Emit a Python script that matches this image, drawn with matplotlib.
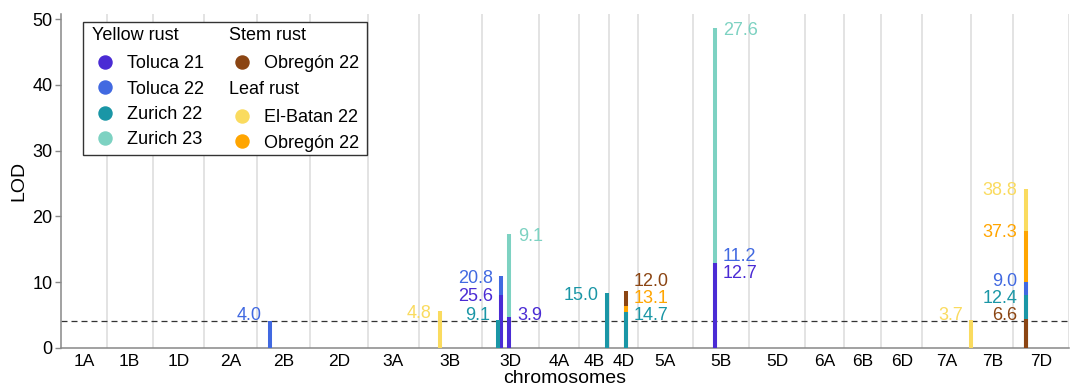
import matplotlib.pyplot as plt
from matplotlib.patches import Rectangle
from matplotlib.lines import Line2D

plt.rcParams['font.family'] = ['Liberation Sans', 'DejaVu Sans']

# chromosomes and their map lengths (cM)
chromosomes = ["1A", "1B", "1D", "2A", "2B", "2D", "3A", "3B", "3D",
               "4A", "4B", "4D", "5A", "5B", "5D", "6A", "6B", "6D",
               "7A", "7B", "7D"]
chrom_length = [137, 138, 154, 159, 159, 174, 152, 189, 173,
                120, 88, 88, 164, 170, 168, 116, 112, 123,
                147, 126, 167]

# traits (disease / environment) and colours
traits = ["YR_T21", "YR_T22", "YR_Z22", "YR_Z23", "SR_O22", "LR_E22", "LR_O22"]
trait_colors = {
    "YR_T21": "#4A2BD4",
    "YR_T22": "#4169E1",
    "YR_Z22": "#1A96A6",
    "YR_Z23": "#7DD2C2",
    "SR_O22": "#8B4513",
    "LR_E22": "#FADB5F",
    "LR_O22": "#FFA500",
}

# QTL peaks
qtl_chrom = ["2B", "3B", "3D", "3D", "3D", "3D", "3D", "4B", "4D", "4D",
             "4D", "5B", "5B", "5B", "7A", "7D", "7D", "7D", "7D", "7D"]
qtl_pos = [39, 64, 50, 58, 58, 83, 83, 84, 51, 51,
           51, 66, 66, 66, 146, 37, 37, 37, 37, 37]
qtl_trait = ["YR_T22", "LR_E22", "YR_Z22", "YR_T22", "YR_T21", "YR_Z23", "YR_T21",
             "YR_Z22", "SR_O22", "LR_O22", "YR_Z22", "YR_Z23", "YR_T22", "YR_T21",
             "LR_E22", "LR_E22", "LR_O22", "YR_T22", "YR_Z22", "SR_O22"]
qtl_lod = [4.1, 5.6, 4.3, 10.9, 8.1, 17.3, 4.7, 8.3, 8.6, 6.4,
           5.5, 48.6, 12.9, 12.85, 4.2, 24.2, 17.8, 10.0, 8.05, 4.4]
qtl_pve = ["4.0", "4.8", "9.1", "20.8", "25.6", "9.1", "3.9", "15.0", "12.0", "13.1",
           "14.7", "27.6", "11.2", "12.7", "3.7", "38.8", "37.3", "9.0", "12.4", "6.6"]
qtl_side = ["L", "L", "L", "L", "L", "R", "R", "L", "R", "R",
            "R", "R", "R", "R", "L", "L", "L", "L", "L", "L"]

lod_threshold = 4.1

# cumulative positions
starts = []
total = 0
for L in chrom_length:
    starts.append(total)
    total += L
ends = [s + L for s, L in zip(starts, chrom_length)]
mids = [s + L / 2 for s, L in zip(starts, chrom_length)]
qtl_x = [starts[chromosomes.index(c)] + p for c, p in zip(qtl_chrom, qtl_pos)]


def spread(targets, gap=2.55, floor=5.3):
    # push overlapping labels apart (simple repel)
    order = sorted(range(len(targets)), key=lambda i: targets[i])
    y = [max(targets[i], floor) for i in order]
    for _ in range(500):
        moved = False
        for k in range(len(y) - 1):
            d = y[k + 1] - y[k]
            if d < gap - 1e-6:
                s = (gap - d) / 2
                y[k] -= s
                y[k + 1] += s
                moved = True
        y = [max(v, floor) for v in y]
        if not moved:
            break
    out = [0] * len(targets)
    for k, i in enumerate(order):
        out[i] = y[k]
    return out


fig = plt.figure(figsize=(10.8, 3.9), dpi=100)
ax = fig.add_axes([61 / 1080, 42 / 390, 1008 / 1080, 334 / 390])

for e in ends:
    ax.axvline(e, color="#DEDEDE", lw=1.2, zorder=1)

ax.axhline(lod_threshold, color="#333333", lw=0.9, dashes=(4.8, 3.2), zorder=2)

# bars, tallest first so shorter peaks show on top
idx = sorted(range(len(qtl_lod)), key=lambda i: -qtl_lod[i])
for i in idx:
    ax.vlines(qtl_x[i], 0, qtl_lod[i], color=trait_colors[qtl_trait[i]],
              lw=2.9, zorder=3)

# labels
label_y = [0] * len(qtl_lod)
groups = {}
for i in range(len(qtl_lod)):
    groups.setdefault((qtl_chrom[i], qtl_side[i]), []).append(i)
for key, members in groups.items():
    ys = spread([qtl_lod[i] for i in members])
    for i, v in zip(members, ys):
        label_y[i] = v

for i in range(len(qtl_lod)):
    left = qtl_side[i] == "L"
    ax.annotate(qtl_pve[i], xy=(qtl_x[i], label_y[i]),
                xytext=(-6 if left else 6, 0), textcoords="offset points",
                ha="right" if left else "left", va="center_baseline",
                fontsize=13, color=trait_colors[qtl_trait[i]], zorder=5)

ax.set_xlim(0, total)
ax.set_ylim(0, 50.76)
ax.set_xticks(mids)
ax.set_xticklabels(chromosomes)
ax.set_yticks([0, 10, 20, 30, 40, 50])
ax.tick_params(axis="x", length=0, pad=4, labelsize=12.5)
ax.tick_params(axis="y", length=4, width=1, color="#888888", pad=2, labelsize=13)
for s in ["top", "right"]:
    ax.spines[s].set_visible(False)
for s in ["left", "bottom"]:
    ax.spines[s].set_color("#888888")
    ax.spines[s].set_linewidth(1.1)
ax.set_xlabel("chromosomes", fontsize=14, labelpad=1)
ax.set_ylabel("LOD", fontsize=14, labelpad=4)

# legend drawn by hand (grouped headers)
def fx(px):
    return px / 1080


def fy(py):
    return 1 - py / 390


legend_cols = [
    [("Yellow rust", None), ("Toluca 21", "YR_T21"), ("Toluca 22", "YR_T22"),
     ("Zurich 22", "YR_Z22"), ("Zurich 23", "YR_Z23")],
    [("Stem rust", None), ("Obregón 22", "SR_O22"), ("Leaf rust", None),
     ("El-Batan 22", "LR_E22"), ("Obregón 22", "LR_O22")],
]
col_x = [92.3, 229]

ax.add_patch(Rectangle((fx(82.7), fy(155)), fx(366.7) - fx(82.7), fy(21.7) - fy(155),
                       transform=fig.transFigure, facecolor="white",
                       edgecolor="#333333", lw=1.0, zorder=10, clip_on=False))
for cx, entries in zip(col_x, legend_cols):
    y = 33.5
    prev = None
    for name, key in entries:
        if prev is not None:
            y += 28.5 if prev[1] is None and key is not None else 25.3
        if key is None:
            ax.text(fx(cx), fy(y), name, transform=fig.transFigure, fontsize=13,
                    ha="left", va="center_baseline", zorder=11)
        else:
            ax.add_line(Line2D([fx(cx + 12.7)], [fy(y)], marker="o", markersize=9.4,
                               color=trait_colors[key], transform=fig.transFigure,
                               zorder=11, clip_on=False))
            ax.text(fx(cx + 34.5), fy(y), name, transform=fig.transFigure, fontsize=13,
                    ha="left", va="center_baseline", zorder=11)
        prev = (name, key)

fig.savefig("out.png", dpi=100)
